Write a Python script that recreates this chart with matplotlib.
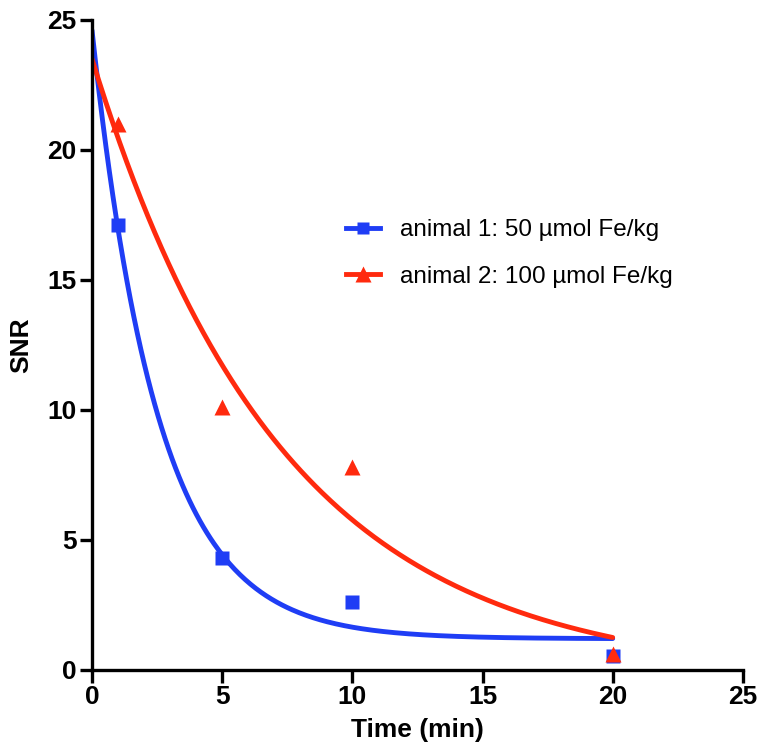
import numpy as np
import matplotlib.pyplot as plt
from matplotlib.lines import Line2D

# measured points
time = [1, 5, 10, 20]
snr_animal1 = [17.1, 4.3, 2.6, 0.55]
snr_animal2 = [21.0, 10.1, 7.8, 0.6]

# one-phase decay fits: (y0, plateau, k)
fit_animal1 = (24.6, 1.2, 0.396)
fit_animal2 = (23.5, -0.3, 0.1366)

labels = ['animal 1: 50 \u00b5mol Fe/kg', 'animal 2: 100 \u00b5mol Fe/kg']
blue = '#1f3df5'
red = '#ff2a0e'

plt.rcParams['font.family'] = ['Liberation Sans', 'DejaVu Sans']

fig = plt.figure(figsize=(7.58, 7.51), dpi=100)
ax = fig.add_axes([0.1214, 0.1079, 0.8586, 0.8655])

t = np.linspace(0, 20, 300)
for (y0, plat, k), c in [(fit_animal1, blue), (fit_animal2, red)]:
    ax.plot(t, plat + (y0 - plat) * np.exp(-k * t), color=c, lw=3.5,
            solid_capstyle='round', zorder=2)

ax.plot(time, snr_animal1, 's', color=blue, ms=10, mec='none', zorder=3)
ax.plot(time, snr_animal2, '^', color=red, ms=11.5, mec='none', zorder=4)

ax.set_xlim(0, 25)
ax.set_ylim(0, 25)
ax.set_xticks([0, 5, 10, 15, 20, 25])
ax.set_yticks([0, 5, 10, 15, 20, 25])
for s in ['top', 'right']:
    ax.spines[s].set_visible(False)
for s in ['left', 'bottom']:
    ax.spines[s].set_linewidth(2.4)
ax.tick_params(width=2.4, length=9, labelsize=19, pad=2)
for lab in ax.get_xticklabels() + ax.get_yticklabels():
    lab.set_fontweight('bold')

ax.set_xlabel('Time (min)', fontsize=19, fontweight='bold', labelpad=6)
ax.set_ylabel('SNR', fontsize=19, fontweight='bold', labelpad=10)

handles = [Line2D([], [], color=blue, lw=3.5, marker='s', ms=9, mec='none'),
           Line2D([], [], color=red, lw=3.5, marker='^', ms=11, mec='none')]
ax.legend(handles, labels, loc='upper left', bbox_to_anchor=(0.357, 0.727),
          frameon=False, fontsize=17.5, handlelength=1.4, labelspacing=1.0,
          handletextpad=0.8)

fig.savefig('out.png', dpi=100)
